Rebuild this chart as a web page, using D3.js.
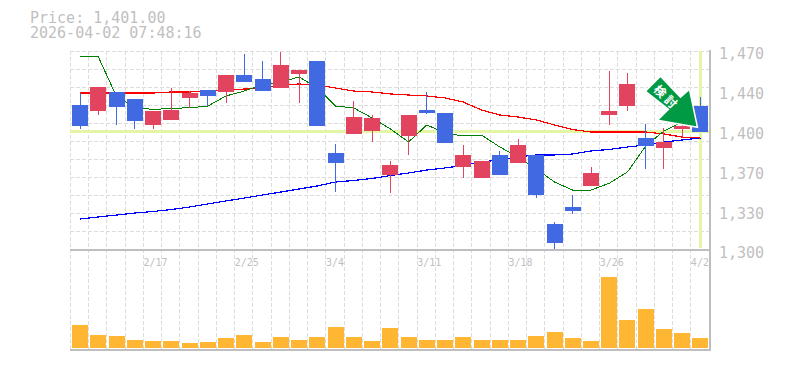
<!DOCTYPE html>
<html>
<head>
<meta charset="utf-8">
<script src="https://cdn.jsdelivr.net/npm/d3@7"></script>
<style>
  html, body { margin: 0; padding: 0; background: #fff; }
  svg { display: block; }
  text { font-family: "DejaVu Sans Mono", monospace; fill: #bfbfbf; }
</style>
</head>
<body>
<div id="chart"></div>
<script>
// Daily candles
const dates = ['2/10','2/12','2/13','2/16','2/17','2/18','2/19','2/20','2/24','2/25','2/26','2/27','3/2','3/3','3/4','3/5','3/6','3/9','3/10','3/11','3/12','3/13','3/16','3/17','3/18','3/19','3/23','3/24','3/25','3/26','3/27','3/30','3/31','4/1','4/2'];
const open = [1423.9,1418.8,1435,1429,1406.8,1411.1,1429.9,1436.7,1435,1449.5,1446.1,1438.4,1450.4,1461.5,1382.9,1399.1,1401.7,1364.1,1397.4,1419.6,1417,1370.9,1361.5,1381.2,1374.3,1381.2,1322.2,1336.7,1354.7,1415.3,1423,1395.7,1387.1,1403.4,1423];
const high = [1434.1,1439.3,1435,1429,1418.8,1438.4,1435.8,1436.7,1449.5,1467.4,1461.5,1469.2,1453.8,1461.5,1390.6,1427.3,1415.3,1376,1415.3,1435,1417,1389.7,1376,1384.6,1394.8,1381.2,1323.9,1347,1370.9,1452.9,1451.2,1407.6,1404.3,1407,1430.7];
const low = [1403.4,1415.3,1406.8,1403.4,1403.4,1411.1,1421.3,1423,1425.6,1443.5,1435.8,1438.4,1425.6,1405.9,1349.5,1399.1,1392.3,1348.7,1381.2,1416.2,1391.4,1361.5,1361.5,1364.1,1374.3,1344.4,1299.1,1330.8,1354.7,1406.8,1418.8,1369.2,1369.2,1396.5,1400.8];
const close = [1405.9,1439.3,1422.2,1410.2,1418.8,1419.6,1434.1,1431.6,1449.5,1443.5,1435.8,1458,1453.8,1405.9,1374.3,1413.6,1412.8,1372.6,1415.3,1417,1391.4,1381.2,1376,1364.1,1389.7,1347,1306,1333.3,1365.8,1418.8,1441.8,1388.8,1392.3,1406,1401];

// Moving averages
const maGreen = [1465.7,1464.9,1431,1421.8,1420,1421,1421.5,1423,1431.6,1435.8,1441,1443.5,1447.8,1438.5,1423,1421.3,1412.8,1403.4,1392.3,1406.8,1400,1397.4,1398.2,1388,1379.5,1369.2,1358.1,1351.2,1351.2,1357,1366.7,1388.8,1401.7,1409.4,1411];
const maRed = [1434.1,1434.1,1434.1,1434.1,1434.1,1435,1435,1435.8,1436.7,1437.5,1438.4,1441,1441.8,1441,1438.4,1435.8,1435,1433.3,1432.4,1431.6,1429.9,1426.4,1419.6,1415.3,1413.6,1411.1,1406.8,1402.9,1400.8,1400.8,1400.8,1400.8,1399.1,1396.5,1395.7];
const maBlue = [1326.5,1328.2,1329.9,1331.6,1332.9,1334.6,1336.7,1339.3,1341.9,1344.4,1347,1349.5,1352.1,1354.7,1358.1,1359.4,1361.1,1363.6,1365.8,1368.3,1370.1,1372.2,1375.2,1376.9,1379.5,1381.2,1381.2,1382,1384.6,1385.9,1388,1389.7,1392.3,1394,1395.7];

// Volume, in thousands
const volume = [230,130,120,80,70,70,50,60,100,130,60,110,80,110,210,110,70,200,110,80,80,110,80,80,80,120,160,100,70,710,280,390,190,150,100];

const priceTicks = [1300,1334,1368,1402,1436,1470];
const priceLabels = ['1,300','1,330','1,370','1,400','1,440','1,470'];
const dateTicks = ['2/17','2/25','3/4','3/11','3/18','3/26','4/2'];
const lastPrice = 1401;
const titleLines = ['Price: 1,401.00', '2026-04-02 07:48:16'];
const badgeText = '検討';

const width = 785;
const height = 370;
const plot = { left: 70.4, right: 709, top: 51, mid: 250, bottom: 350 };

const svg = d3.select('#chart').append('svg')
  .attr('width', width)
  .attr('height', height);

const x = d3.scaleBand().domain(dates).range([plot.left + 0.6, plot.right + 0.6]);
const y = d3.scaleLinear().domain([1300, 1470]).range([plot.mid, plot.top]);
const yVol = d3.scaleLinear().domain([0, 980]).range([348, plot.mid]);
const cx = i => x(dates[i]) + x.bandwidth() / 2;
const bodyWidth = 16;

// Title, one text block with two lines
svg.append('text')
  .attr('font-size', 15)
  .selectAll('tspan')
  .data(titleLines)
  .enter()
  .append('tspan')
  .attr('x', 30)
  .attr('y', (d, i) => 23 + i * 14.6)
  .text(d => d);

// Grid
const grid = svg.append('g')
  .attr('stroke', '#dcdcdc')
  .attr('stroke-dasharray', '4,2')
  .attr('shape-rendering', 'crispEdges');

grid.selectAll('.h')
  .data(d3.range(12).map(k => 1300 + k * 170 / 11))
  .enter()
  .append('line')
  .attr('x1', plot.left)
  .attr('x2', plot.right)
  .attr('y1', d => y(d))
  .attr('y2', d => y(d));

grid.selectAll('.v')
  .data(d3.range(36))
  .enter()
  .append('line')
  .attr('x1', k => plot.left + k * x.step())
  .attr('x2', k => plot.left + k * x.step())
  .attr('y1', plot.top)
  .attr('y2', plot.bottom);

// Current price / date highlight
const highlight = svg.append('g')
  .attr('stroke', '#e4f6a6')
  .attr('stroke-width', 3)
  .attr('shape-rendering', 'crispEdges');

highlight.append('line')
  .attr('x1', plot.left)
  .attr('x2', plot.right)
  .attr('y1', y(lastPrice))
  .attr('y2', y(lastPrice));

highlight.append('line')
  .attr('x1', cx(34))
  .attr('x2', cx(34))
  .attr('y1', plot.top)
  .attr('y2', plot.mid - 2);

// Moving average lines
const line = d3.line().x((d, i) => cx(i)).y(d => y(d));
[[maBlue, '#0000ff', 1.2], [maRed, '#ff0000', 1.2], [maGreen, '#008000', 1]].forEach(([values, color, w]) => {
  svg.append('path')
    .attr('d', line(values))
    .attr('fill', 'none')
    .attr('stroke', color)
    .attr('stroke-width', w)
    .attr('shape-rendering', 'crispEdges');
});

// Candles
const candleColor = i => close[i] >= open[i] ? '#e2445f' : '#4169e1';
const candles = svg.append('g')
  .attr('shape-rendering', 'crispEdges')
  .selectAll('g')
  .data(dates)
  .enter()
  .append('g');

candles.append('line')
  .attr('x1', (d, i) => cx(i))
  .attr('x2', (d, i) => cx(i))
  .attr('y1', (d, i) => y(high[i]))
  .attr('y2', (d, i) => y(low[i]))
  .attr('stroke', (d, i) => candleColor(i));

candles.append('rect')
  .attr('x', (d, i) => cx(i) - bodyWidth / 2)
  .attr('y', (d, i) => y(Math.max(open[i], close[i])))
  .attr('width', bodyWidth)
  .attr('height', (d, i) => Math.abs(y(open[i]) - y(close[i])))
  .attr('fill', (d, i) => candleColor(i));

// Volume bars
svg.append('g')
  .attr('shape-rendering', 'crispEdges')
  .selectAll('rect')
  .data(volume)
  .enter()
  .append('rect')
  .attr('x', (d, i) => cx(i) - bodyWidth / 2)
  .attr('y', d => yVol(d))
  .attr('width', bodyWidth)
  .attr('height', d => yVol(0) - yVol(d))
  .attr('fill', '#ffb733');

// Frame
const frame = svg.append('g')
  .attr('stroke', '#bebebe')
  .attr('stroke-width', 2)
  .attr('shape-rendering', 'crispEdges');
frame.append('line').attr('x1', plot.left).attr('x2', plot.right + 2).attr('y1', plot.mid).attr('y2', plot.mid);
frame.append('line').attr('x1', plot.left).attr('x2', plot.right + 2).attr('y1', plot.bottom).attr('y2', plot.bottom);
frame.append('line').attr('x1', plot.right + 1).attr('x2', plot.right + 1).attr('y1', plot.top - 1).attr('y2', plot.bottom);

// Axes
const yAxis = d3.axisRight(y)
  .tickValues(priceTicks)
  .tickFormat((d, i) => priceLabels[i])
  .tickSize(0)
  .tickPadding(0);

const yAxisG = svg.append('g')
  .attr('transform', `translate(719, 3)`)
  .call(yAxis);
yAxisG.select('.domain').remove();
yAxisG.selectAll('text')
  .attr('font-family', null)
  .attr('font-size', 15);
yAxisG.attr('font-family', null).attr('font-size', null);

const xAxis = d3.axisBottom(x)
  .tickValues(dateTicks)
  .tickSize(0)
  .tickPadding(0);

const xAxisG = svg.append('g')
  .attr('transform', `translate(0, ${plot.mid + 9})`)
  .call(xAxis);
xAxisG.select('.domain').remove();
xAxisG.attr('font-family', null).attr('font-size', null);
xAxisG.selectAll('text')
  .attr('text-anchor', 'start')
  .attr('x', -x.bandwidth() / 2 - 0.5)
  .attr('font-size', 10);

// Signal arrow, tip sits just above the last close
const tip = { x: cx(34) - 3, y: y(lastPrice) - 4.5 };
const arrowShape = [[-37,-51],[-52,-36],[-29,-18],[-40,-7],[0,0],[-8,-38],[-17,-30]];
const badge = svg.append('g').attr('transform', `translate(${tip.x}, ${tip.y})`);

badge.append('path')
  .attr('d', d3.line()(arrowShape) + 'Z')
  .attr('fill', '#009944')
  .attr('stroke', '#fff')
  .attr('stroke-width', 1.5)
  .attr('stroke-linejoin', 'miter');

badge.append('text')
  .attr('transform', 'translate(-31, -29.5) rotate(45)')
  .attr('text-anchor', 'middle')
  .attr('dy', '0.36em')
  .attr('letter-spacing', 3)
  .style('font-family', '"Noto Sans CJK JP"')
  .style('font-weight', 700)
  .style('font-size', '12px')
  .style('fill', '#fff')
  .text(badgeText);
</script>
</body>
</html>
